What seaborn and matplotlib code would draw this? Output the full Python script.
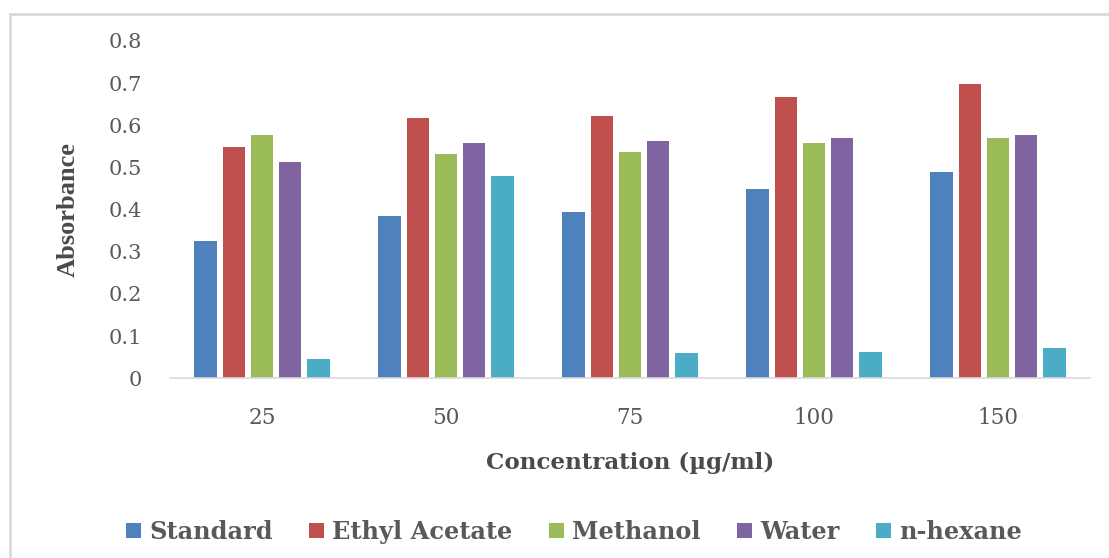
import matplotlib
matplotlib.use("Agg")
import matplotlib.pyplot as plt
import seaborn as sns
import pandas as pd
from matplotlib.patches import Rectangle

# Absorbance readings per extract at each concentration
concentrations = ["25", "50", "75", "100", "150"]
standard = [0.325, 0.385, 0.394, 0.449, 0.490]
ethyl_acetate = [0.549, 0.617, 0.623, 0.666, 0.697]
methanol = [0.577, 0.532, 0.537, 0.559, 0.570]
water = [0.513, 0.557, 0.563, 0.570, 0.578]
n_hexane = [0.046, 0.479, 0.061, 0.063, 0.071]

series_names = ["Standard", "Ethyl Acetate", "Methanol", "Water", "n-hexane"]
series_values = [standard, ethyl_acetate, methanol, water, n_hexane]
colors = ["#4F81BD", "#C0504D", "#9BBB59", "#8064A2", "#4BACC6"]

rows = []
for name, vals in zip(series_names, series_values):
    for c, v in zip(concentrations, vals):
        rows.append({"Concentration": c, "Extract": name, "Absorbance": v})
df = pd.DataFrame(rows)

sns.set_style("white")
plt.rcParams["font.family"] = ["DejaVu Serif"]

W, H = 1109, 558
fig = plt.figure(figsize=(W / 100, H / 100), dpi=100)
ax = fig.add_axes([170 / W, 1 - 378.3 / H, 920 / W, 337.3 / H])

sns.barplot(data=df, x="Concentration", y="Absorbance", hue="Extract",
            order=concentrations, hue_order=series_names,
            palette=colors, width=0.766, gap=0.2, saturation=1,
            legend=False, ax=ax, edgecolor="none")

ax.set_xlim(-0.5, 4.5)
ax.set_ylim(0, 0.8)
ax.set_yticks([0, 0.1, 0.2, 0.3, 0.4, 0.5, 0.6, 0.7, 0.8])
ax.set_yticklabels(["0", "0.1", "0.2", "0.3", "0.4", "0.5", "0.6", "0.7", "0.8"])
ax.tick_params(axis="y", length=0, pad=20, labelsize=15, labelcolor="#595959")
ax.tick_params(axis="x", length=0, pad=21, labelsize=15.5, labelcolor="#595959")

for s in ["top", "right", "left"]:
    ax.spines[s].set_visible(False)
ax.spines["bottom"].set_color("#d9d9d9")
ax.spines["bottom"].set_linewidth(1.2)

ax.set_xlabel("Concentration (\u00b5g/ml)", fontsize=16.6, fontweight="bold",
              color="#4a4a4a")
ax.xaxis.set_label_coords(0.5, (378.3 - 452) / 337.3)
ax.set_ylabel("Absorbance", fontsize=19, fontweight="bold",
              family="Liberation Serif", color="#4a4a4a")
ax.yaxis.set_label_coords((80 - 170) / 920, 0.5)

# Legend along the bottom
handles = [Rectangle((0, 0), 1, 1, facecolor=c, edgecolor="none") for c in colors]
fig.legend(handles, series_names, loc="center", ncol=5,
           bbox_to_anchor=(574 / W, 1 - 532 / H), frameon=False,
           handlelength=0.64, handleheight=0.55, handletextpad=0.34,
           columnspacing=1.5,
           prop={"family": "DejaVu Serif", "weight": "bold", "size": 17.3},
           labelcolor="#595959")

# Chart frame
fig.patches.append(Rectangle((10 / W, -0.05), 1.2, 1 - 14 / H + 0.05,
                             transform=fig.transFigure, fill=False,
                             edgecolor="#d9d9d9", linewidth=2))

fig.savefig("out.png", dpi=100, facecolor="white")
